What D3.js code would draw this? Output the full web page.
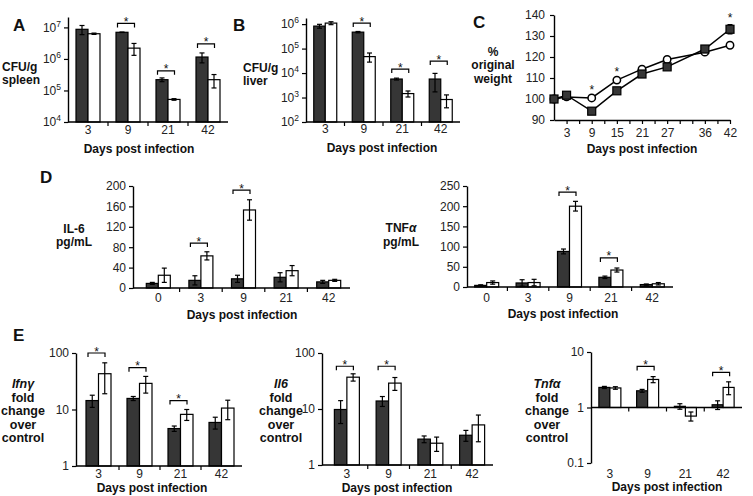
<!DOCTYPE html>
<html>
<head>
<meta charset="utf-8">
<script src="https://cdn.jsdelivr.net/npm/d3@7"></script>
<style>
body { margin: 0; background: #fff; }
svg { font-family: Arial, "Liberation Sans", sans-serif; }
</style>
</head>
<body>
<svg width="753" height="496"></svg>
<script>
// ---------- data ----------
var daysAB = ['3', '9', '21', '42'];
var spleenDark = [8.7e6, 7.0e6, 2.2e5, 1.15e6];
var spleenDarkErr = [2.8e6, 0.1e6, 0.3e5, 0.4e6];
var spleenWhite = [6.3e6, 2.2e6, 5.2e4, 2.2e5];
var spleenWhiteErr = [0.3e6, 0.9e6, 0.3e4, 1.0e5];
var spleenSig = [null, 1.34e7, 4.2e5, 3.0e6];

var liverDark = [8.3e5, 4.7e5, 5.7e3, 5.7e3];
var liverDarkErr = [1.5e5, 0.3e5, 0.5e3, 4.0e3];
var liverWhite = [1.1e6, 4.7e4, 1.45e3, 830];
var liverWhiteErr = [1.5e5, 1.9e4, 0.4e3, 450];
var liverSig = [null, 1.1e6, 1.46e4, 3.1e4];

var weightDays = [0, 3, 9, 15, 21, 27, 36, 42];
var weightDark = [100, 101.8, 94.2, 103.9, 111.9, 115.3, 123.8, 133.2];
var weightDarkErr = [0, 0.8, 0.8, 1, 1, 1, 1.5, 2.2];
var weightWhite = [100, 101, 100.5, 109, 114.2, 118.8, 122.3, 125.6];
var weightWhiteErr = [0, 0.6, 0.8, 1, 1, 1, 1, 1];
var weightSigDays = [9, 15, 42];
var weightSigLevel = [104.5, 113, 138.5];
var weightTickLabels = [3, 9, 15, 21, 27, 36, 42];

var daysD = ['0', '3', '9', '21', '42'];
var il6Dark = [9, 15, 18, 21, 12];
var il6DarkErr = [2, 9, 7, 9, 3];
var il6White = [25, 63, 153, 34, 15];
var il6WhiteErr = [14, 8, 20, 10, 2];
var il6Sig = [null, 88, 192, null, null];

var tnfDark = [4, 10, 88, 24, 6];
var tnfDarkErr = [1.5, 8, 6, 3, 1.5];
var tnfWhite = [11, 11, 200, 42, 8];
var tnfWhiteErr = [4, 8, 12, 5, 3];
var tnfSig = [null, null, 235, 72, null];

var ifngDark = [14.4, 15.7, 4.6, 5.9];
var ifngDarkErr = [3.5, 1.3, 0.5, 1.4];
var ifngWhite = [43, 29, 8.2, 10.6];
var ifngWhiteErr = [24, 9.5, 1.8, 4];
var ifngSig = [100, 55, 14.4, null];

var il6mDark = [9.8, 13.9, 2.9, 3.4];
var il6mDarkErr = [4.3, 2.8, 0.4, 0.75];
var il6mWhite = [37, 29, 2.45, 5.2];
var il6mWhiteErr = [5.5, 7.5, 0.7, 2.6];
var il6mSig = [58, 58, null, null];

var tnfmDark = [2.3, 2.0, 1.05, 1.12];
var tnfmDarkErr = [0.1, 0.12, 0.12, 0.2];
var tnfmWhite = [2.25, 3.2, 0.7, 2.3];
var tnfmWhiteErr = [0.12, 0.4, 0.13, 0.6];
var tnfmSig = [null, 5.5, null, 4.3];

// ---------- drawing ----------
var svg = d3.select('svg');
var darkFill = '#363636';

function txt(x, y, s, size, weight, anchor) {
    return svg.append('text')
        .attr('x', x).attr('y', y)
        .attr('font-size', size)
        .attr('font-weight', weight || 'normal')
        .attr('text-anchor', anchor || 'start')
        .attr('fill', '#111')
        .text(s);
}

function sigMark(cx, yy, half) {
    svg.append('path')
        .attr('d', 'M' + (cx - half) + ',' + (yy + 4) + 'V' + yy + 'H' + (cx + half) + 'V' + (yy + 4))
        .attr('fill', 'none').attr('stroke', '#000').attr('stroke-width', 1.2);
    txt(cx, yy + 2.5, '*', 12, 'normal', 'middle');
}

function barPanel(p) {
    var x = d3.scaleBand().domain(p.cats).range(p.xr);
    var y = (p.log ? d3.scaleLog() : d3.scaleLinear()).domain(p.yd).range(p.yr);
    var base = p.base || p.yd[0];
    var bw = p.bw || 12;
    var cx = function (c) { return x(c) + x.bandwidth() / 2; };
    var g = svg.append('g');

    var series = [
        { vals: p.dark, err: p.darkErr, fill: darkFill, off: -bw },
        { vals: p.white, err: p.whiteErr, fill: '#fff', off: 0 }
    ];
    series.forEach(function (s) {
        var rows = p.cats.map(function (c, i) { return { c: c, v: s.vals[i], e: s.err[i] }; });
        g.selectAll(null).data(rows).enter().append('rect')
            .attr('x', function (d) { return cx(d.c) + s.off; })
            .attr('y', function (d) { return Math.min(y(d.v), y(base)); })
            .attr('width', bw)
            .attr('height', function (d) { return Math.abs(y(base) - y(d.v)); })
            .attr('fill', s.fill).attr('stroke', '#000').attr('stroke-width', 1.2);

        var eb = g.selectAll(null).data(rows).enter().append('g')
            .attr('transform', function (d) { return 'translate(' + (cx(d.c) + s.off + bw / 2) + ',0)'; })
            .attr('stroke', '#000').attr('stroke-width', 1.2);
        var hi = function (d) { return y(d.v + d.e); };
        var lo = function (d) { return y(Math.max(d.v - d.e, p.yd[0] * 1.05)); };
        eb.append('line').attr('y1', hi).attr('y2', lo);
        eb.append('line').attr('x1', -2.5).attr('x2', 2.5).attr('y1', hi).attr('y2', hi);
        eb.append('line').attr('x1', -2.5).attr('x2', 2.5).attr('y1', lo).attr('y2', lo);
    });

    // y axis
    var ya = d3.axisLeft(y).tickValues(p.ticks).tickSize(4).tickSizeOuter(0).tickPadding(3)
        .tickFormat(function (d) { return String(d); });
    var ag = svg.append('g').attr('transform', 'translate(' + p.ax + ',0)').call(ya);
    ag.select('.domain').attr('stroke-width', 1.4);
    ag.selectAll('.tick line').attr('stroke-width', 1.2);
    ag.selectAll('.tick text').attr('font-size', 12).attr('fill', '#222')
        .attr('font-family', 'Arial, "Liberation Sans", sans-serif');
    if (p.sup) {
        ag.selectAll('.tick text').each(function (d) {
            var t = d3.select(this).text(null);
            t.append('tspan').text('10');
            t.append('tspan').attr('dy', -5).attr('font-size', 8.5).text(Math.round(Math.log10(d)));
        });
    }

    // x axis line, band ticks, labels
    var by = y(base);
    svg.append('line').attr('x1', p.ax).attr('x2', p.xr[1]).attr('y1', by).attr('y2', by)
        .attr('stroke', '#000').attr('stroke-width', 1.4);
    svg.selectAll(null).data(p.cats.slice(1)).enter().append('line')
        .attr('x1', function (c) { return x(c); }).attr('x2', function (c) { return x(c); })
        .attr('y1', by).attr('y2', by + 4)
        .attr('stroke', '#000').attr('stroke-width', 1.2);
    svg.selectAll(null).data(p.cats).enter().append('text')
        .attr('x', cx).attr('y', p.labelY)
        .attr('text-anchor', 'middle').attr('font-size', 12).attr('fill', '#222')
        .text(function (c) { return c; });

    p.sig.forEach(function (v, i) {
        if (v != null) sigMark(cx(p.cats[i]) - 2, y(v), 8.5);
    });
}

// ----- A: spleen -----
barPanel({ cats: daysAB, dark: spleenDark, darkErr: spleenDarkErr, white: spleenWhite, whiteErr: spleenWhiteErr,
    sig: spleenSig, xr: [68, 228], ax: 68, log: true, yd: [1e4, Math.pow(10, 7.33)], yr: [122, 17],
    ticks: [1e4, 1e5, 1e6, 1e7], sup: true, bw: 12, labelY: 134 });
txt(13, 31, 'A', 17, 'bold');
txt(2, 71, 'CFU/g', 12, 'bold');
txt(2, 84, 'spleen', 12, 'bold');
txt(139, 153, 'Days post infection', 12, 'bold', 'middle');

// ----- B: liver -----
barPanel({ cats: daysAB, dark: liverDark, darkErr: liverDarkErr, white: liverWhite, whiteErr: liverWhiteErr,
    sig: liverSig, xr: [306, 460], ax: 306, log: true, yd: [1e2, Math.pow(10, 6.25)], yr: [122, 18],
    ticks: [1e2, 1e3, 1e4, 1e5, 1e6], sup: true, bw: 11.5, labelY: 133 });
txt(233, 31, 'B', 17, 'bold');
txt(243, 72, 'CFU/g', 12, 'bold');
txt(243, 85, 'liver', 12, 'bold');
txt(382, 152, 'Days post infection', 12, 'bold', 'middle');

// ----- C: weight -----
(function () {
    var x = d3.scaleLinear().domain([0, 42]).range([554, 730]);
    var y = d3.scaleLinear().domain([90, 140]).range([120, 15]);
    var ya = d3.axisLeft(y).tickValues(d3.range(90, 141, 10)).tickSize(4).tickSizeOuter(0).tickPadding(5);
    var ag = svg.append('g').attr('transform', 'translate(554,0)').call(ya);
    var xa = d3.axisBottom(x).tickValues(d3.range(0, 43, 3)).tickSize(4).tickSizeOuter(0).tickPadding(4)
        .tickFormat(function (d) { return weightTickLabels.indexOf(d) >= 0 ? d : ''; });
    var xg = svg.append('g').attr('transform', 'translate(0,120)').call(xa);
    [ag, xg].forEach(function (a) {
        a.select('.domain').attr('stroke-width', 1.4);
        a.selectAll('.tick line').attr('stroke-width', 1.2);
        a.selectAll('.tick text').attr('font-size', 12).attr('fill', '#222')
            .attr('font-family', 'Arial, "Liberation Sans", sans-serif');
    });
    xg.selectAll('.tick').filter(function (d) { return d === 0; }).select('line').remove();

    var line = d3.line().x(function (d) { return x(d[0]); }).y(function (d) { return y(d[1]); });
    var sets = [
        { v: weightWhite, e: weightWhiteErr },
        { v: weightDark, e: weightDarkErr }
    ];
    sets.forEach(function (s) {
        var pts = weightDays.map(function (d, i) { return [d, s.v[i], s.e[i]]; });
        svg.append('path').datum(pts).attr('d', line)
            .attr('fill', 'none').attr('stroke', '#000').attr('stroke-width', 1.5);
        svg.selectAll(null).data(pts).enter().append('path')
            .attr('d', function (d) {
                var xx = x(d[0]), a = y(d[1] + d[2]), b = y(d[1] - d[2]);
                return 'M' + xx + ',' + a + 'V' + b + 'M' + (xx - 2.5) + ',' + a + 'h5M' + (xx - 2.5) + ',' + b + 'h5';
            })
            .attr('stroke', '#000').attr('stroke-width', 1.1);
    });
    svg.selectAll(null).data(weightDays).enter().append('circle')
        .attr('cx', function (d) { return x(d); })
        .attr('cy', function (d, i) { return y(weightWhite[i]); })
        .attr('r', 3.7).attr('fill', '#fff').attr('stroke', '#000').attr('stroke-width', 1.5);
    svg.selectAll(null).data(weightDays).enter().append('rect')
        .attr('x', function (d) { return x(d) - 4; })
        .attr('y', function (d, i) { return y(weightDark[i]) - 4; })
        .attr('width', 8).attr('height', 8)
        .attr('fill', darkFill).attr('stroke', '#000').attr('stroke-width', 1.2);
    weightSigDays.forEach(function (d, i) {
        txt(x(d), y(weightSigLevel[i]) + 4, '*', 12, 'normal', 'middle');
    });
})();
txt(473, 28, 'C', 17, 'bold');
txt(493, 56, '%', 12, 'bold', 'middle');
txt(493, 69, 'original', 12, 'bold', 'middle');
txt(493, 83, 'weight', 12, 'bold', 'middle');
txt(642, 153, 'Days post infection', 12, 'bold', 'middle');

// ----- D: serum cytokines -----
barPanel({ cats: daysD, dark: il6Dark, darkErr: il6DarkErr, white: il6White, whiteErr: il6WhiteErr,
    sig: il6Sig, xr: [137, 350], ax: 133, yd: [0, 200], yr: [288, 186],
    ticks: d3.range(0, 201, 40), bw: 12, labelY: 302 });
txt(40, 183, 'D', 17, 'bold');
txt(74, 233, 'IL-6', 12, 'bold', 'middle');
txt(74, 246, 'pg/mL', 12, 'bold', 'middle');
txt(242, 319, 'Days post infection', 12, 'bold', 'middle');

barPanel({ cats: daysD, dark: tnfDark, darkErr: tnfDarkErr, white: tnfWhite, whiteErr: tnfWhiteErr,
    sig: tnfSig, xr: [466, 673], ax: 467, yd: [0, 250], yr: [287, 186],
    ticks: d3.range(0, 251, 50), bw: 12, labelY: 302 });
var tnfLab = txt(401, 232, 'TNF', 12, 'bold', 'middle');
tnfLab.append('tspan').attr('font-style', 'italic').text('α');
txt(401, 246, 'pg/mL', 12, 'bold', 'middle');
txt(563, 318, 'Days post infection', 12, 'bold', 'middle');

// ----- E: mRNA fold change -----
function foldLabel(cx, gene) {
    txt(cx, 388, gene, 12.5, 'bold', 'middle').attr('font-style', 'italic');
    ['fold', 'change', 'over', 'control'].forEach(function (s, i) {
        txt(cx, 401.5 + i * 13.5, s, 12.5, 'bold', 'middle');
    });
}

barPanel({ cats: daysAB, dark: ifngDark, darkErr: ifngDarkErr, white: ifngWhite, whiteErr: ifngWhiteErr,
    sig: ifngSig, xr: [78, 242], ax: 76, log: true, yd: [1, 100], yr: [466, 353],
    ticks: [1, 10, 100], bw: 12.5, labelY: 478 });
txt(13, 341, 'E', 17, 'bold');
foldLabel(23, 'Ifnγ');
txt(152, 492, 'Days post infection', 12, 'bold', 'middle');

barPanel({ cats: daysAB, dark: il6mDark, darkErr: il6mDarkErr, white: il6mWhite, whiteErr: il6mWhiteErr,
    sig: il6mSig, xr: [326, 493], ax: 322, log: true, yd: [1, 100], yr: [465, 353],
    ticks: [1, 10, 100], bw: 12.5, labelY: 478 });
foldLabel(281, 'Il6');
txt(397, 492, 'Days post infection', 12, 'bold', 'middle');

barPanel({ cats: daysAB, dark: tnfmDark, darkErr: tnfmDarkErr, white: tnfmWhite, whiteErr: tnfmWhiteErr,
    sig: tnfmSig, xr: [591, 742], ax: 591, log: true, yd: [0.1, 10], yr: [463, 352], base: 1,
    ticks: [0.1, 1, 10], bw: 11, labelY: 478 });
foldLabel(547, 'Tnfα');
txt(667, 491, 'Days post infection', 12, 'bold', 'middle');
</script>
</body>
</html>
